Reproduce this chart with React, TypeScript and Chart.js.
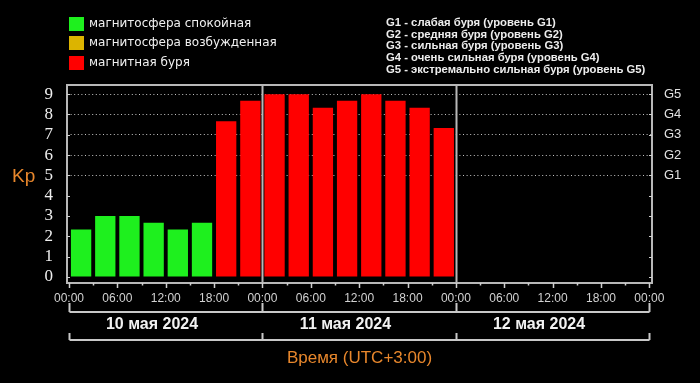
import React, { useEffect, useRef } from "react";
import { Chart, registerables } from "chart.js";

Chart.register(...registerables);

// ---- data ----
const dayLabels = ["10 мая 2024", "11 мая 2024", "12 мая 2024"];
const timeLabels = ["00:00", "06:00", "12:00", "18:00"];
const slotHours = 3;
// Kp index per 3-hour slot, 10 May 00:00 onward (12 May: no data yet)
const kpValues = [2.33, 3, 3, 2.67, 2.33, 2.67, 7.67, 8.67, 9, 9, 8.33, 8.67, 9, 8.67, 8.33, 7.33];
const kpTicks = [0, 1, 2, 3, 4, 5, 6, 7, 8, 9];
const stormLevels = ["G1", "G2", "G3", "G4", "G5"];
const stormLevelKp = [5, 6, 7, 8, 9];
const stormDescriptions = [
  "G1 - слабая буря (уровень G1)",
  "G2 - средняя буря (уровень G2)",
  "G3 - сильная буря (уровень G3)",
  "G4 - очень сильная буря (уровень G4)",
  "G5 - экстремально сильная буря (уровень G5)",
];
const legendLabels = ["магнитосфера спокойная", "магнитосфера возбужденная", "магнитная буря"];
const legendColors = ["#1ef01e", "#dcb400", "#ff0000"];
const yAxisTitle = "Kp";
const xAxisTitle = "Время (UTC+3:00)";

const colorFor = (v: number) => (v < 4 ? legendColors[0] : v < 5 ? legendColors[1] : legendColors[2]);

const decorPlugin = {
  id: "decor",
  beforeDraw(chart: any) {
    const { ctx, width, height } = chart;
    ctx.save();
    ctx.fillStyle = "#000";
    ctx.fillRect(0, 0, width, height);
    ctx.restore();
  },
  afterDraw(chart: any) {
    const { ctx, chartArea } = chart;
    const xs = chart.scales.x;
    const ys = chart.scales.y;
    const { left, right, top, bottom } = chartArea;
    ctx.save();

    // frame
    ctx.strokeStyle = "#b8b8b8";
    ctx.lineWidth = 2;
    ctx.strokeRect(left, top, right - left, bottom - top);

    // day separators
    const dayEdges = [0, 24, 48, 72].map((h) => Math.round(xs.getPixelForValue(h)) + 0.5);
    ctx.lineWidth = 2;
    [dayEdges[1], dayEdges[2]].forEach((x) => {
      ctx.beginPath();
      ctx.moveTo(x, top);
      ctx.lineTo(x, bottom);
      ctx.stroke();
    });

    // x tick marks
    ctx.strokeStyle = "#d0d0d0";
    ctx.lineWidth = 1.5;
    for (let h = 0; h <= 72; h += slotHours) {
      const x = Math.round(xs.getPixelForValue(h)) + 0.5;
      const len = h % 6 === 0 ? 5 : 2.5;
      ctx.beginPath();
      ctx.moveTo(x, bottom);
      ctx.lineTo(x, bottom + len);
      ctx.stroke();
    }
    // y inner tick marks
    ctx.lineWidth = 1;
    kpTicks.forEach((v) => {
      const y = Math.round(ys.getPixelForValue(v)) + 0.5;
      ctx.beginPath();
      ctx.moveTo(left, y);
      ctx.lineTo(left + 3, y);
      ctx.moveTo(right, y);
      ctx.lineTo(right - 3, y);
      ctx.stroke();
    });

    // brackets
    ctx.strokeStyle = "#c8c8c8";
    ctx.lineWidth = 2;
    const b1 = 312, b2 = 340;
    ctx.beginPath();
    ctx.moveTo(dayEdges[0], b1);
    ctx.lineTo(dayEdges[3], b1);
    ctx.moveTo(dayEdges[0], b2);
    ctx.lineTo(dayEdges[3], b2);
    dayEdges.forEach((x) => {
      ctx.moveTo(x, b1 - 9);
      ctx.lineTo(x, b1);
      ctx.moveTo(x, b2 - 7);
      ctx.lineTo(x, b2);
    });
    ctx.stroke();

    // day labels
    ctx.fillStyle = "#f2f2f2";
    ctx.font = "bold 16px 'Liberation Sans', Arial, sans-serif";
    ctx.textAlign = "center";
    ctx.textBaseline = "middle";
    dayLabels.forEach((d, i) => {
      const cx = (dayEdges[i] + dayEdges[i + 1]) / 2 - 14;
      ctx.fillText(d, cx, 325);
    });

    // x axis title
    ctx.fillStyle = "#e8872c";
    ctx.font = "17px 'Liberation Sans', Arial, sans-serif";
    ctx.fillText(xAxisTitle, (left + right) / 2, 358);

    // y axis title
    ctx.textAlign = "left";
    ctx.textBaseline = "alphabetic";
    ctx.font = "19px 'Liberation Sans', Arial, sans-serif";
    ctx.fillText(yAxisTitle, 12, 182);

    // legend
    ctx.font = "12px 'DejaVu Sans', sans-serif";
    ctx.textBaseline = "middle";
    const legendTops = [17, 36, 56];
    legendLabels.forEach((lab, i) => {
      ctx.fillStyle = legendColors[i];
      ctx.fillRect(69, legendTops[i], 15, 14);
      ctx.fillStyle = "#f0f0f0";
      ctx.fillText(lab, 89, legendTops[i] + 7);
    });

    // storm level descriptions
    ctx.font = "bold 11.3px 'Liberation Sans', Arial, sans-serif";
    ctx.fillStyle = "#ededed";
    stormDescriptions.forEach((s, i) => {
      ctx.fillText(s, 386, 23 + i * 11.6);
    });

    ctx.restore();
  },
};

export default function App() {
  const ref = useRef<HTMLCanvasElement | null>(null);
  useEffect(() => {
    document.body.style.margin = "0";
    document.body.style.background = "#000";
    const canvas = ref.current;
    if (!canvas) return;
    const chart = new Chart(canvas, {
      type: "bar",
      data: {
        datasets: [
          {
            data: kpValues.map((v, i) => ({ x: i * slotHours + slotHours / 2, y: v })),
            backgroundColor: kpValues.map(colorFor),
            borderWidth: 0,
            barPercentage: 0.84,
            categoryPercentage: 1,
          },
        ],
      },
      options: {
        responsive: false,
        animation: false,
        events: [],
        layout: { padding: { top: 85, left: 0, right: 0, bottom: 0 } },
        plugins: { legend: { display: false }, tooltip: { enabled: false } },
        scales: {
          x: {
            type: "linear",
            min: -0.25,
            max: 72.33,
            offset: false,
            afterBuildTicks: (s: any) => {
              s.ticks = [0, 6, 12, 18, 24, 30, 36, 42, 48, 54, 60, 66, 72].map((v) => ({ value: v }));
            },
            afterFit: (s: any) => {
              s.height = 100;
            },
            ticks: {
              autoSkip: false,
              maxRotation: 0,
              padding: 8,
              color: "#d2d2d2",
              font: { family: "'Liberation Sans', Arial, sans-serif", size: 12 },
              callback: (v: any) => timeLabels[Math.round(Number(v) / 6) % 4],
            },
            grid: { display: true, drawOnChartArea: false, drawTicks: false, color: "rgba(0,0,0,0)" },
            border: { display: false },
          },
          y: {
            type: "linear",
            position: "left",
            min: -0.3,
            max: 9.45,
            afterBuildTicks: (s: any) => {
              s.ticks = kpTicks.map((v) => ({ value: v }));
            },
            afterFit: (s: any) => {
              s.width = 67;
            },
            ticks: {
              autoSkip: false,
              padding: 14,
              color: "#efefef",
              font: { family: "'Liberation Serif', 'Times New Roman', serif", size: 17 },
            },
            grid: {
              drawTicks: false,
              lineWidth: 1,
              color: (c: any) => (c.tick && c.tick.value >= 5 ? "#c4c4c4" : "rgba(0,0,0,0)"),
            },
            border: { display: false, dash: [1, 2.6] },
          },
          y2: {
            type: "linear",
            position: "right",
            min: -0.3,
            max: 9.45,
            afterBuildTicks: (s: any) => {
              s.ticks = stormLevelKp.map((v) => ({ value: v }));
            },
            afterFit: (s: any) => {
              s.width = 48;
            },
            ticks: {
              autoSkip: false,
              padding: 12,
              color: "#e2e2e2",
              font: { family: "'Liberation Sans', Arial, sans-serif", size: 13 },
              callback: (v: any) => stormLevels[stormLevelKp.indexOf(Number(v))] ?? "",
            },
            grid: { display: false, drawTicks: false },
            border: { display: false },
          },
        },
      },
      plugins: [decorPlugin],
    } as any);
    return () => chart.destroy();
  }, []);
  return (
    <div style={{ width: 700, height: 383, background: "#000" }}>
      <canvas ref={ref} width={700} height={383} style={{ display: "block" }} />
    </div>
  );
}
